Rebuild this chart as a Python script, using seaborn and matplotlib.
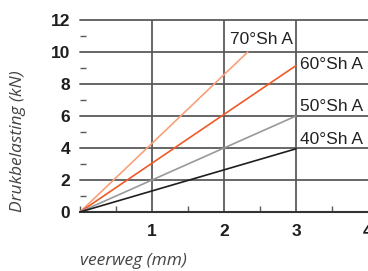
import matplotlib
matplotlib.use("Agg")
import matplotlib.pyplot as plt
import seaborn as sns
import pandas as pd
from matplotlib.ticker import MultipleLocator

# waarden
hardheid = ["70°Sh A", "60°Sh A", "50°Sh A", "40°Sh A"]
weg_eind = [2.33, 3.0, 3.0, 3.0]          # mm
kracht_eind = [10.0, 9.15, 6.0, 3.95]     # kN
kleuren = ["#f8a07a", "#f05a28", "#999999", "#1e1e1e"]

# plaats van de labels (data-coordinaten)
label_x = [2.08, 3.06, 3.06, 3.06]
label_y = [10.8, 9.2, 6.6, 4.5]

x_ticks = [1, 2, 3, 4]
y_ticks = [0, 2, 4, 6, 8, 10, 12]

rijen = []
for h, xe, ye in zip(hardheid, weg_eind, kracht_eind):
    rijen.append({"hardheid": h, "veerweg": 0.0, "kracht": 0.0})
    rijen.append({"hardheid": h, "veerweg": xe, "kracht": ye})
df = pd.DataFrame(rijen)

sns.set_style("white")
plt.rcParams["font.family"] = ["Liberation Sans", "DejaVu Sans"]

fig = plt.figure(figsize=(3.68, 2.71), dpi=100)
ax = fig.add_axes([80 / 368, 59 / 271, 288 / 368, 192 / 271])

grid_kleur = "#5a5a5a"
for v in x_ticks[:-1]:
    ax.axvline(v, color=grid_kleur, lw=1.3, zorder=1)
for v in y_ticks[1:]:
    ax.axhline(v, color=grid_kleur, lw=1.3, zorder=1, clip_on=False)

sns.lineplot(data=df, x="veerweg", y="kracht", hue="hardheid",
             palette=dict(zip(hardheid, kleuren)), legend=False,
             lw=1.2, ax=ax, zorder=3)

for h, lx, ly in zip(hardheid, label_x, label_y):
    ax.text(lx, ly, h, fontsize=12.5, color="#222222", va="center", ha="left")

ax.set_xlim(0, 4)
ax.set_ylim(0, 12)
ax.set_xticks(x_ticks)
ax.set_yticks(y_ticks)
ax.xaxis.set_minor_locator(MultipleLocator(0.5))
ax.yaxis.set_minor_locator(MultipleLocator(1))
ax.tick_params(axis="both", which="both", bottom=True, left=True)
ax.tick_params(axis="both", which="major", length=0, labelsize=12.5,
               colors="#1e1e1e")
ax.tick_params(axis="x", which="major", pad=9)
ax.tick_params(axis="y", which="major", pad=7)
ax.tick_params(axis="both", which="minor", direction="in", length=4,
               width=1.0, color=grid_kleur)
for lab in ax.get_xticklabels() + ax.get_yticklabels():
    lab.set_fontweight("bold")

for s in ["top", "right", "left"]:
    ax.spines[s].set_visible(False)
ax.spines["bottom"].set_color("#333333")
ax.spines["bottom"].set_linewidth(1.5)

ax.set_xlabel("")
ax.set_ylabel("")
fig.text(80 / 368, 1 - 261 / 271, "veerweg (mm)", fontsize=12.5, style="italic",
         color="#444444", ha="left", va="center", family=["Open Sans", "DejaVu Sans"])
fig.text(18 / 368, 1 - 141 / 271, "Drukbelasting (kN)", fontsize=12.5,
         style="italic", color="#444444", ha="center", va="center",
         rotation=90, family=["Open Sans", "DejaVu Sans"])

fig.savefig("out.png", dpi=100)
